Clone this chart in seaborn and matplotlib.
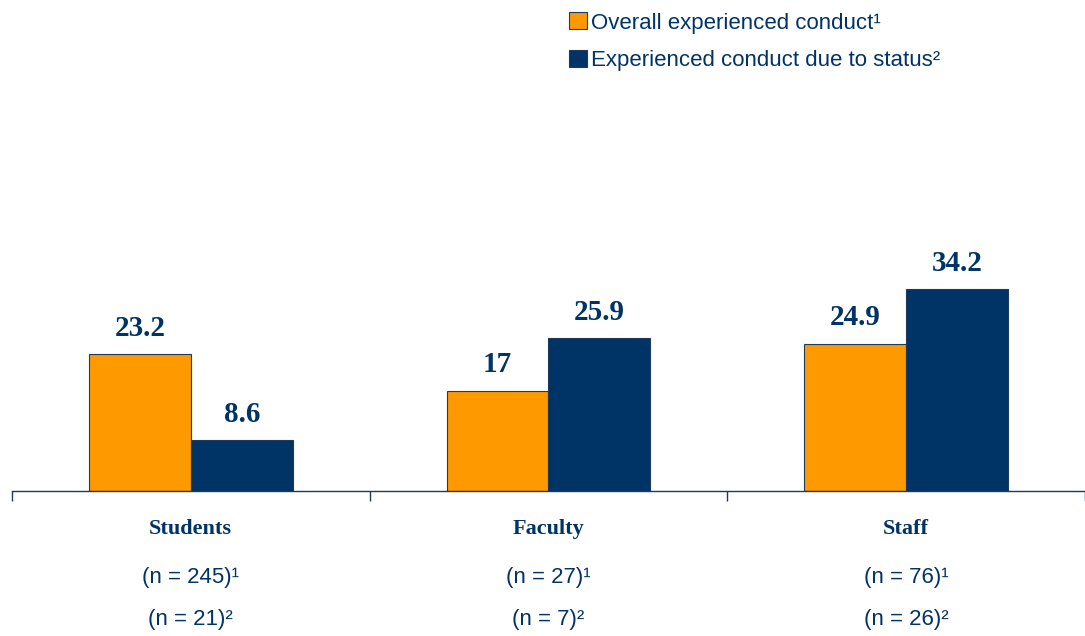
import matplotlib
matplotlib.use("Agg")
import matplotlib.pyplot as plt
import seaborn as sns
import pandas as pd
from matplotlib.patches import Patch
from matplotlib.transforms import blended_transform_factory

categories = ["Students", "Faculty", "Staff"]
series_names = ["Overall experienced conduct\u00b9", "Experienced conduct due to status\u00b2"]
overall = [23.2, 17, 24.9]
status = [8.6, 25.9, 34.2]
overall_labels = ["23.2", "17", "24.9"]
status_labels = ["8.6", "25.9", "34.2"]
n_overall = ["(n = 245)\u00b9", "(n = 27)\u00b9", "(n = 76)\u00b9"]
n_status = ["(n = 21)\u00b2", "(n = 7)\u00b2", "(n = 26)\u00b2"]

ORANGE = "#FF9900"
NAVY = "#003366"

df = pd.DataFrame({
    "category": categories * 2,
    "series": [series_names[0]] * 3 + [series_names[1]] * 3,
    "value": overall + status,
})

sns.set_style("white")
fig = plt.figure(figsize=(10.85, 6.36), dpi=100)
ax = fig.add_axes([0.011, 0.228, 0.989, 0.557])

sns.barplot(data=df, x="category", y="value", hue="series", order=categories,
            hue_order=series_names, palette=[ORANGE, NAVY], width=0.57,
            edgecolor="#1f3a5a", linewidth=0.8, saturation=1, ax=ax, legend=False)

ax.set_xlim(-0.5, 2.5)
ax.set_ylim(0, 60)
for s in ["top", "right", "left"]:
    ax.spines[s].set_visible(False)
ax.spines["bottom"].set_color("#1f3a5a")
ax.spines["bottom"].set_linewidth(1.0)
ax.set_yticks([])
ax.set_xlabel("")
ax.set_ylabel("")

ax.set_xticks(range(len(categories)))
ax.set_xticklabels(categories, fontfamily="Liberation Serif", fontweight="bold",
                   fontsize=16, color=NAVY)
ax.tick_params(axis="x", which="major", length=0, pad=20)
ax.set_xticks([-0.5, 0.5, 1.5, 2.5], minor=True)
ax.tick_params(axis="x", which="minor", bottom=True, length=7, width=1,
               color="#1f3a5a", direction="out")

labels_all = [overall_labels, status_labels]
for container, labs in zip(ax.containers, labels_all):
    ax.bar_label(container, labels=labs, padding=9, fontfamily="Liberation Serif",
                 fontweight="bold", fontsize=21, color=NAVY)

trans = blended_transform_factory(ax.transData, fig.transFigure)
for i in range(len(categories)):
    ax.text(i, 1 - 578 / 636, n_overall[i], transform=trans, ha="center", va="center",
            fontfamily="Liberation Sans", fontsize=16, color=NAVY)
    ax.text(i, 1 - 620 / 636, n_status[i], transform=trans, ha="center", va="center",
            fontfamily="Liberation Sans", fontsize=16, color=NAVY)

handles = [Patch(facecolor=ORANGE, edgecolor="#1f3a5a", linewidth=0.8),
           Patch(facecolor=NAVY, edgecolor="#1f3a5a", linewidth=0.8)]
fig.legend(handles, series_names, loc="upper left", bbox_to_anchor=(0.506, 1.012),
           frameon=False, handlelength=0.8, handleheight=0.8, handletextpad=0.2,
           labelspacing=0.75, prop={"family": "Liberation Sans", "size": 16},
           labelcolor=NAVY)

fig.savefig("out.png", dpi=100)
